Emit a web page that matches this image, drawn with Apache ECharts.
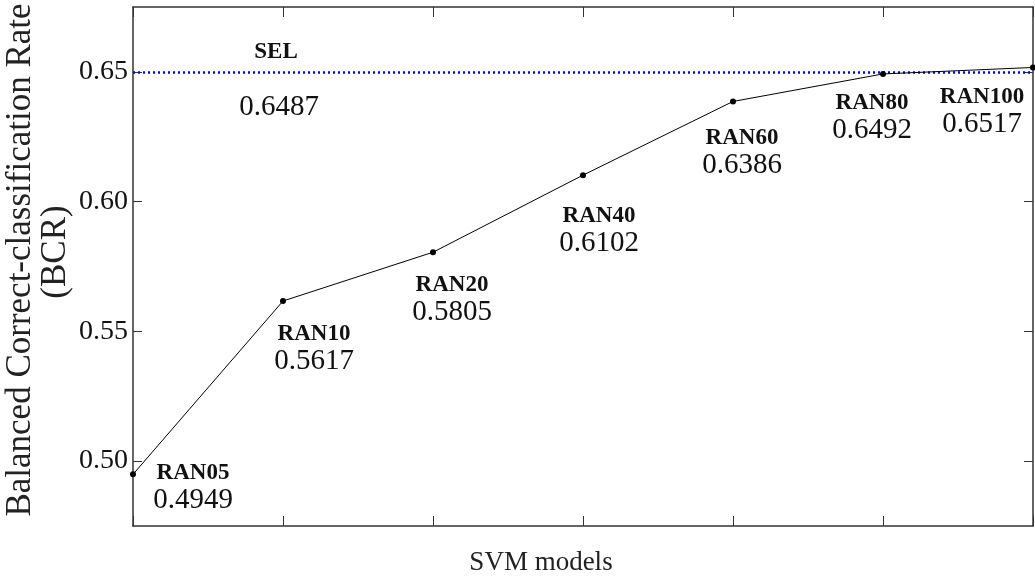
<!DOCTYPE html>
<html>
<head>
<meta charset="utf-8">
<script src="https://cdn.jsdelivr.net/npm/echarts@6/dist/echarts.min.js"></script>
<style>
  html, body { margin: 0; padding: 0; background: #fff; }
  #chart { width: 1035px; height: 582px; }
</style>
</head>
<body>
<div id="chart"></div>
<script>
var models = ['RAN05', 'RAN10', 'RAN20', 'RAN40', 'RAN60', 'RAN80', 'RAN100'];
var bcr = [0.4949, 0.5617, 0.5805, 0.6102, 0.6386, 0.6492, 0.6517];
var selName = 'SEL';
var selValue = 0.6487;
var yTicks = [0.50, 0.55, 0.60, 0.65];

// label placement next to each point (pixels)
var labelOffsets = [[60, 14], [31, 48], [19, 48], [16, 56], [9, 52], [-11, 44], [-51, 45]];

var serif = '"Liberation Serif", "DejaVu Serif", serif';
var frame = '#333';

var lineData = bcr.map(function (v, i) {
    return {
        value: v,
        label: {
            offset: labelOffsets[i],
            formatter: '{n|' + models[i] + '}\n{v|' + v.toFixed(4) + '}'
        }
    };
});

var myChart = echarts.init(document.getElementById('chart'));
var option = {
    animation: false,
    backgroundColor: '#fff',
    grid: { left: 133, right: 2, top: 7, bottom: 56 },
    xAxis: [{
        type: 'category',
        data: models,
        boundaryGap: false,
        axisLine: { show: true, lineStyle: { color: frame, width: 1.5 } },
        axisTick: { show: true, inside: true, length: 10, lineStyle: { color: frame } },
        axisLabel: { show: false },
        splitLine: { show: false }
    }, {
        type: 'category',
        data: models,
        position: 'top',
        boundaryGap: false,
        axisLine: { show: true, lineStyle: { color: frame, width: 1.5 } },
        axisTick: { show: true, inside: true, length: 10, lineStyle: { color: frame } },
        axisLabel: { show: false },
        splitLine: { show: false }
    }],
    yAxis: [{
        type: 'value',
        min: 0.475,
        max: 0.675,
        axisLine: { show: true, lineStyle: { color: frame, width: 1.5 } },
        axisTick: { show: true, inside: true, length: 9, customValues: yTicks, lineStyle: { color: frame } },
        axisLabel: {
            customValues: yTicks,
            margin: 5,
            color: '#111',
            fontFamily: serif,
            fontSize: 28,
            formatter: function (v) { return v.toFixed(2); }
        },
        splitLine: { show: false }
    }, {
        type: 'value',
        position: 'right',
        min: 0.475,
        max: 0.675,
        axisLine: { show: true, lineStyle: { color: frame, width: 1.5 } },
        axisTick: { show: true, inside: true, length: 9, customValues: yTicks, lineStyle: { color: frame } },
        axisLabel: { show: false },
        splitLine: { show: false }
    }],
    series: [{
        type: 'line',
        data: lineData,
        symbol: 'circle',
        symbolSize: 6,
        lineStyle: { color: '#000', width: 1 },
        itemStyle: { color: '#000' },
        z: 5,
        label: {
            show: true,
            position: 'inside',
            align: 'center',
            verticalAlign: 'middle',
            rich: {
                n: { fontFamily: serif, fontWeight: 'bold', fontSize: 23, color: '#111', lineHeight: 24, align: 'center' },
                v: { fontFamily: serif, fontSize: 29, color: '#111', lineHeight: 30, align: 'center' }
            }
        },
        markLine: {
            silent: true,
            symbol: 'none',
            label: { show: false },
            lineStyle: { color: '#0000ff', width: 2.5, type: [2, 3] },
            data: [{ yAxis: selValue }]
        }
    }, {
        type: 'scatter',
        symbolSize: 0,
        itemStyle: { opacity: 1 },
        data: [
            { value: [models[1], selValue], label: { position: 'top', distance: 12, offset: [-7, 0], formatter: selName, fontWeight: 'bold', fontSize: 23 } },
            { value: [models[1], selValue], label: { position: 'bottom', distance: 18, offset: [-4, 0], formatter: selValue.toFixed(4), fontSize: 29 } }
        ],
        label: { show: true, fontFamily: serif, color: '#111' }
    }],
    graphic: [{
        type: 'text',
        x: 21, y: 260,
        rotation: Math.PI / 2,
        style: { text: 'Balanced Correct-classification Rate', font: '35px ' + serif, fill: '#222', align: 'center', verticalAlign: 'middle' }
    }, {
        type: 'text',
        x: 56, y: 252,
        rotation: Math.PI / 2,
        style: { text: '(BCR)', font: '35px ' + serif, fill: '#222', align: 'center', verticalAlign: 'middle' }
    }, {
        type: 'text',
        x: 541, y: 563,
        style: { text: 'SVM models', font: '27px ' + serif, fill: '#222', align: 'center', verticalAlign: 'middle' }
    }]
};
myChart.setOption(option);
</script>
</body>
</html>
